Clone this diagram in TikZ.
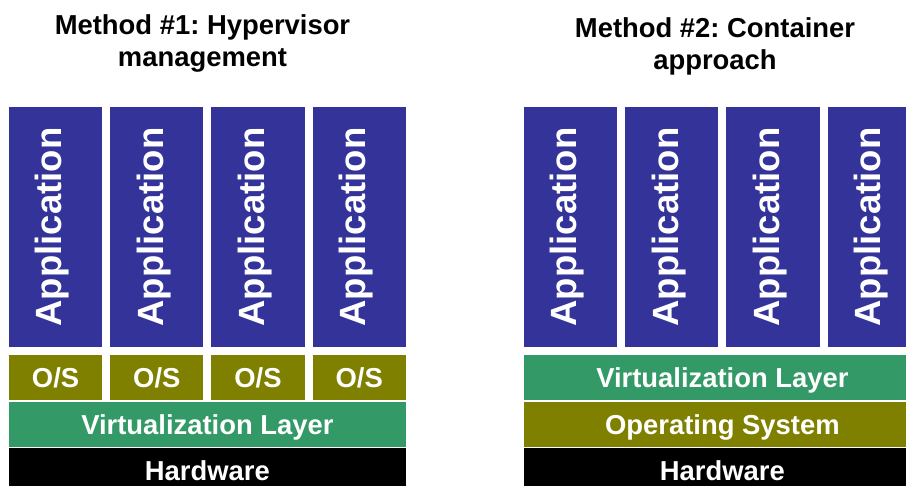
\documentclass[tikz,border=0pt]{standalone}
\usepackage{fontspec}
\setmainfont{Liberation Sans}
\frenchspacing
\definecolor{appblue}{HTML}{333399}
\definecolor{osolive}{HTML}{808000}
\definecolor{virtgreen}{HTML}{339966}
\definecolor{hwblack}{HTML}{000000}

\begin{document}
\begin{tikzpicture}[x=1pt,y=-1pt,
  layer/.style={inner sep=0pt,outer sep=0pt,text=white,minimum height=45pt,text height=19.6pt,text depth=0pt,font=\fontsize{27.4}{32}\selectfont\bfseries},
  app/.style={layer,fill=appblue,rotate=90,minimum width=240pt,minimum height=93.2pt,text height=26.3pt,text depth=13.9pt,font=\fontsize{36.5}{40}\selectfont\bfseries},
  os/.style={layer,fill=osolive,minimum width=93.2pt},
  title/.style={align=center,anchor=base,font=\fontsize{27.4}{32}\selectfont\bfseries}]
\clip (0,0) rectangle (906,486);
% method 1: one O/S per application
\node[title] (t1) at (202.5,67) {Method \#1: Hypervisor\\management};
\node[app] (a1) at (55.6,227) {Application};
\node[app] (a2) at (156.8,227) {Application};
\node[app] (a3) at (258,227) {Application};
\node[app] (a4) at (359.2,227) {Application};
\node[os] (o1) at (55.6,377.5) {O/S};
\node[os] (o2) at (156.8,377.5) {O/S};
\node[os] (o3) at (258,377.5) {O/S};
\node[os] (o4) at (359.2,377.5) {O/S};
\node[layer,fill=virtgreen,minimum width=396.8pt] (v1) at (207.4,424.5) {Virtualization Layer};
\node[layer,fill=hwblack,minimum width=396.8pt] (h1) at (207.4,470.5) {Hardware};
% method 2: applications share one O/S
\node[title] (t2) at (715,70) {Method \#2: Container\\approach};
\node[app] (b1) at (570.6,227) {Application};
\node[app] (b2) at (671.8,227) {Application};
\node[app] (b3) at (773,227) {Application};
\node[app] (b4) at (874.2,227) {Application};
\node[layer,fill=virtgreen,minimum width=396.8pt] (v2) at (722.4,377.5) {Virtualization Layer};
\node[layer,fill=osolive,minimum width=396.8pt] (s2) at (722.4,424.5) {Operating System};
\node[layer,fill=hwblack,minimum width=396.8pt] (h2) at (722.4,470.5) {Hardware};
\end{tikzpicture}
\end{document}
